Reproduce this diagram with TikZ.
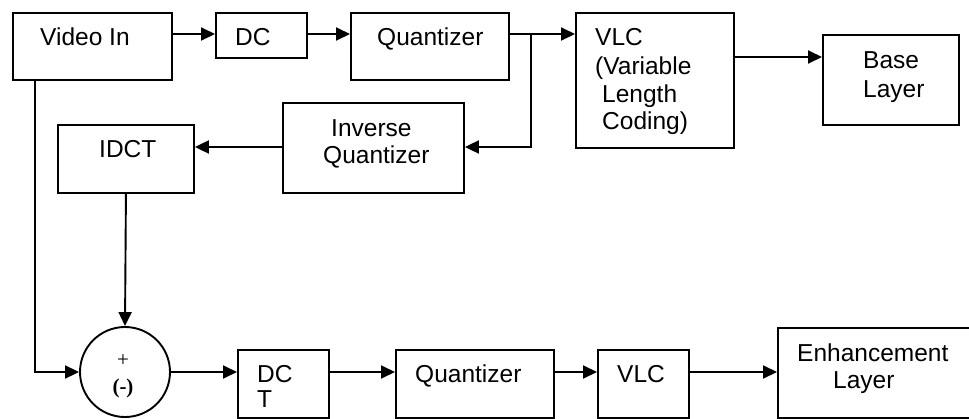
\documentclass[tikz,border=0pt]{standalone}
\usepackage{fontspec}
\setmainfont{Liberation Sans}
\newfontfamily\seriffam{Liberation Serif}
\usetikzlibrary{arrows.meta}
\begin{document}
\begin{tikzpicture}[x=1pt,y=-1pt,
  box/.style={draw, line width=1.9pt, inner sep=0pt, anchor=north west},
  txt/.style={inner sep=0pt, anchor=base west, font=\fontsize{24.5}{28}\selectfont, align=left},
  conn/.style={line width=1.9pt, -{Triangle[length=14pt,width=13pt]}}]
\useasboundingbox (0,0) rectangle (969,418);
% top row boxes
\node[box, minimum width=159pt, minimum height=67pt] (vin) at (12,12) {};
\node[box, minimum width=91pt, minimum height=45pt] (dc) at (215,12) {};
\node[box, minimum width=158pt, minimum height=67pt] (q1) at (350,12) {};
\node[box, minimum width=158pt, minimum height=135pt] (vlc1) at (575,12) {};
\node[box, minimum width=136pt, minimum height=90pt] (base) at (822,34) {};
\node[box, minimum width=181pt, minimum height=90pt] (iq) at (282,102) {};
\node[box, minimum width=136pt, minimum height=68pt] (idct) at (57,124) {};
% bottom row
\node[draw, circle, line width=1.9pt, inner sep=0pt, minimum size=90pt] (sum) at (125,372) {};
\node[box, minimum width=91pt, minimum height=68pt] (dct) at (237,349) {};
\node[box, minimum width=158pt, minimum height=68pt] (q2) at (395,349) {};
\node[box, minimum width=91pt, minimum height=68pt] (vlc2) at (597,349) {};
\node[box, minimum width=192pt, minimum height=90pt] (enh) at (777,327) {};
% texts
\node[txt] (tvin) at (40,45) {Video In};
\node[txt] (tdc) at (235,45) {DC};
\node[txt] (tq1) at (377,45) {Quantizer};
\begin{scope}
\clip (575,12) rectangle (733,136);
\node[txt] (tvlc1a) at (595,45) {VLC};
\node[txt] (tvlc1b) at (595,74) {(Variable};
\node[txt] (tvlc1c) at (602,102) {Length};
\node[txt] (tvlc1d) at (602,129) {Coding)};
\end{scope}
\node[txt] (tbase1) at (863,68) {Base};
\node[txt] (tbase2) at (863,97) {Layer};
\node[txt] (tiq1) at (331,136) {Inverse};
\node[txt] (tiq2) at (323,163) {Quantizer};
\node[txt] (tidct) at (99,157) {IDCT};
\node[inner sep=0pt, anchor=base, font=\seriffam\fontsize{21}{24}\selectfont] (tplus) at (123,366) {+};
\node[inner sep=0pt, anchor=base, font=\seriffam\bfseries\fontsize{21}{24}\selectfont] (tminus) at (123,393) {(-)};
\node[txt] (tdct1) at (257,382) {DC};
\node[txt] (tdct2) at (257,407) {T};
\node[txt] (tq2) at (415,382) {Quantizer};
\node[txt] (tvlc2) at (617,382) {VLC};
\node[txt] (tenh1) at (797,361) {Enhancement};
\node[txt] (tenh2) at (833,388) {Layer};
% junction coordinates
\coordinate (j1) at (531,34);
\coordinate (j2) at (531,147);
% connectors
\draw[conn] (vin.east |- 0,34) -- (dc.west |- 0,34);
\draw[conn] (dc.east |- 0,34) -- (q1.west |- 0,34);
\draw[conn] (q1.east |- 0,34) -- (vlc1.west |- 0,34);
\draw[conn] (j1) -- (j2) -- (iq.east |- j2);
\draw[conn] (iq.west |- j2) -- (idct.east |- j2);
\draw[conn] (vlc1.east |- 0,57) -- (base.west |- 0,57);
\draw[conn] (vin.south -| 35,0) -- (35,372) -- (sum.west);
\draw[conn] (idct.south) -- (sum.north);
\draw[conn] (sum.east) -- (dct.west |- sum.east);
\draw[conn] (dct.east |- 0,372) -- (q2.west |- 0,372);
\draw[conn] (q2.east |- 0,372) -- (vlc2.west |- 0,372);
\draw[conn] (vlc2.east |- 0,372) -- (enh.west |- 0,372);
\end{tikzpicture}
\end{document}
